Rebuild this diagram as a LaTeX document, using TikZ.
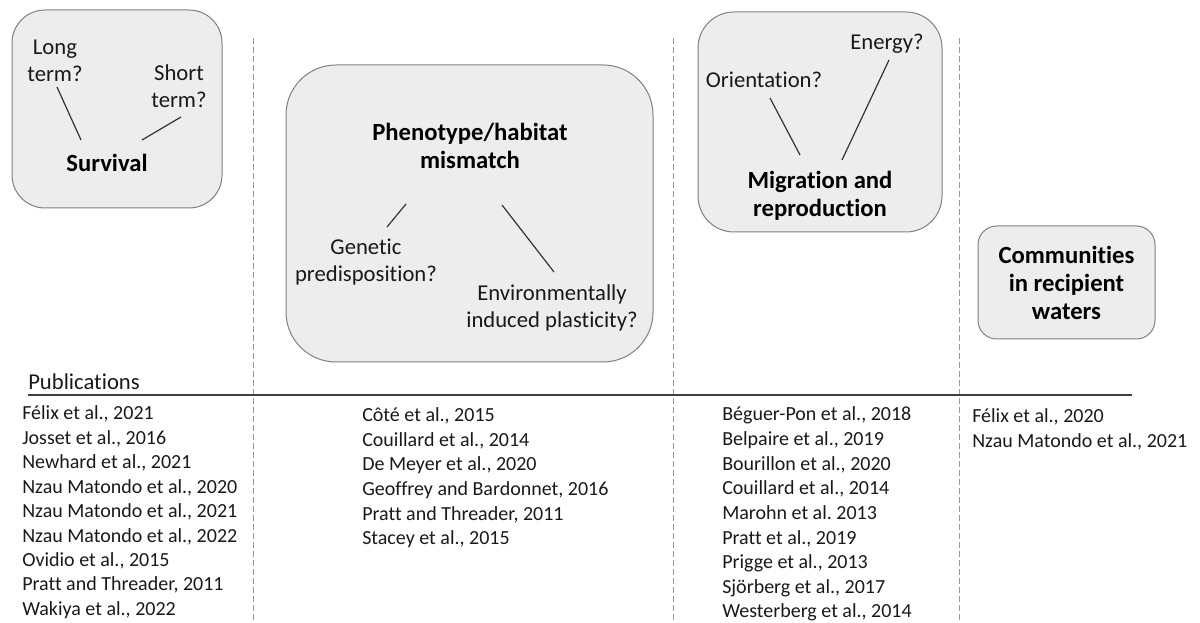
\documentclass[tikz,border=0pt]{standalone}
\usepackage{fontspec}
\setmainfont{Carlito}[Ligatures=NoCommon,RawFeature={-liga;-dlig}]
\frenchspacing
\begin{document}
\begin{tikzpicture}[x=0.75pt,y=-0.75pt,
  box/.style={draw=black!50, fill=black!7, line width=0.75pt, inner sep=0pt, outer sep=0pt},
  lbl/.style={font=\fontsize{17}{20.25}\selectfont, align=center, text=black!90, inner sep=0pt},
  bold/.style={font=\fontsize{18.5}{21}\selectfont\bfseries, align=center, text=black, inner sep=0pt},
  pub/.style={font=\fontsize{15}{18}\selectfont, text=black!90, inner sep=0pt, anchor=base west},
  link/.style={draw=black!80, line width=0.9pt},
  sep/.style={draw=black!40, line width=0.75pt, dash pattern=on 4.5pt off 2.25pt},
  rule/.style={draw=black!75, line width=1.5pt}]
\useasboundingbox (0,0) rectangle (1200,623);

% separators
\coordinate (d1t) at (253,38); \coordinate (d1b) at (253,623);
\coordinate (d2t) at (673,38); \coordinate (d2b) at (673,623);
\coordinate (d3t) at (959,38); \coordinate (d3b) at (959,623);
\draw[sep] (d1t) -- (d1b);
\draw[sep] (d2t) -- (d2b);
\draw[sep] (d3t) -- (d3b);

% boxes
\node[box, rounded corners=24.75pt, minimum width=157.5pt, minimum height=148.5pt] (box1) at (117,109) {};
\node[box, rounded corners=37.5pt, minimum width=275.25pt, minimum height=222.75pt] (box2) at (469.5,213.5) {};
\node[box, rounded corners=27pt, minimum width=183pt, minimum height=165pt] (box3) at (820,122) {};
\node[box, rounded corners=14pt, minimum width=132.75pt, minimum height=84.75pt] (box4) at (1066.5,282.5) {};

% box 1
\node[lbl] (long) at (55,61) {Long\\term?};
\node[lbl] (short) at (179,86) {Short\\term?};
\node[bold] (surv) at (107,163) {Survival};
\coordinate (l1a) at (57,87); \coordinate (l1b) at (81,140);
\coordinate (s1a) at (181,117); \coordinate (s1b) at (142,140);
\draw[link] (l1a) -- (l1b);
\draw[link] (s1a) -- (s1b);

% box 2
\node[bold] (pheno) at (470,146) {Phenotype/habitat\\mismatch};
\node[lbl] (gen) at (366,262) {Genetic\\predisposition?};
\node[lbl] (env) at (552,308) {Environmentally\\induced plasticity?};
\coordinate (g1a) at (406,204); \coordinate (g1b) at (387,227);
\coordinate (e1a) at (502,205); \coordinate (e1b) at (554,272);
\draw[link] (g1a) -- (g1b);
\draw[link] (e1a) -- (e1b);

% box 3
\node[lbl] (orient) at (764,80) {Orientation?};
\node[lbl] (energy) at (887,44) {Energy?};
\node[bold] (migr) at (820,196) {Migration and\\reproduction};
\coordinate (o1a) at (770,98); \coordinate (o1b) at (800,155);
\coordinate (n1a) at (889,60); \coordinate (n1b) at (842,160);
\draw[link] (o1a) -- (o1b);
\draw[link] (n1a) -- (n1b);

% box 4
\node[bold] (comm) at (1066.5,283) {Communities\\in recipient\\waters};

% publications rule
\node[lbl, anchor=base west] (pubs) at (28,390) {Publications};
\coordinate (h1) at (28,395); \coordinate (h2) at (1132,395);
\draw[rule] (h1) -- (h2);

\foreach \t [count=\i] in {{Félix et al., 2021},{Josset et al., 2016},{Newhard et al., 2021},{Nzau Matondo et al., 2020},{Nzau Matondo et al., 2021},{Nzau Matondo et al., 2022},{Ovidio et al., 2015},{Pratt and Threader, 2011},{Wakiya et al., 2022}}
  \node[pub] (ca\i) at (22,{420+24.4*(\i-1)}) {\t};

\foreach \t [count=\i] in {{Côté et al., 2015},{Couillard et al., 2014},{De Meyer et al., 2020},{Geoffrey and Bardonnet, 2016},{Pratt and Threader, 2011},{Stacey et al., 2015}}
  \node[pub] (cb\i) at (362,{422+24.5*(\i-1)}) {\t};

\foreach \t [count=\i] in {{Béguer-Pon et al., 2018},{Belpaire et al., 2019},{Bourillon et al., 2020},{Couillard et al., 2014},{Marohn et al. 2013},{Pratt et al., 2019},{Prigge et al., 2013},{Sjörberg et al., 2017},{Westerberg et al., 2014}}
  \node[pub] (cc\i) at (722,{421+24.6*(\i-1)}) {\t};

\foreach \t [count=\i] in {{Félix et al., 2020},{Nzau Matondo et al., 2021}}
  \node[pub] (cd\i) at (972,{423+24.5*(\i-1)}) {\t};

\end{tikzpicture}
\end{document}
